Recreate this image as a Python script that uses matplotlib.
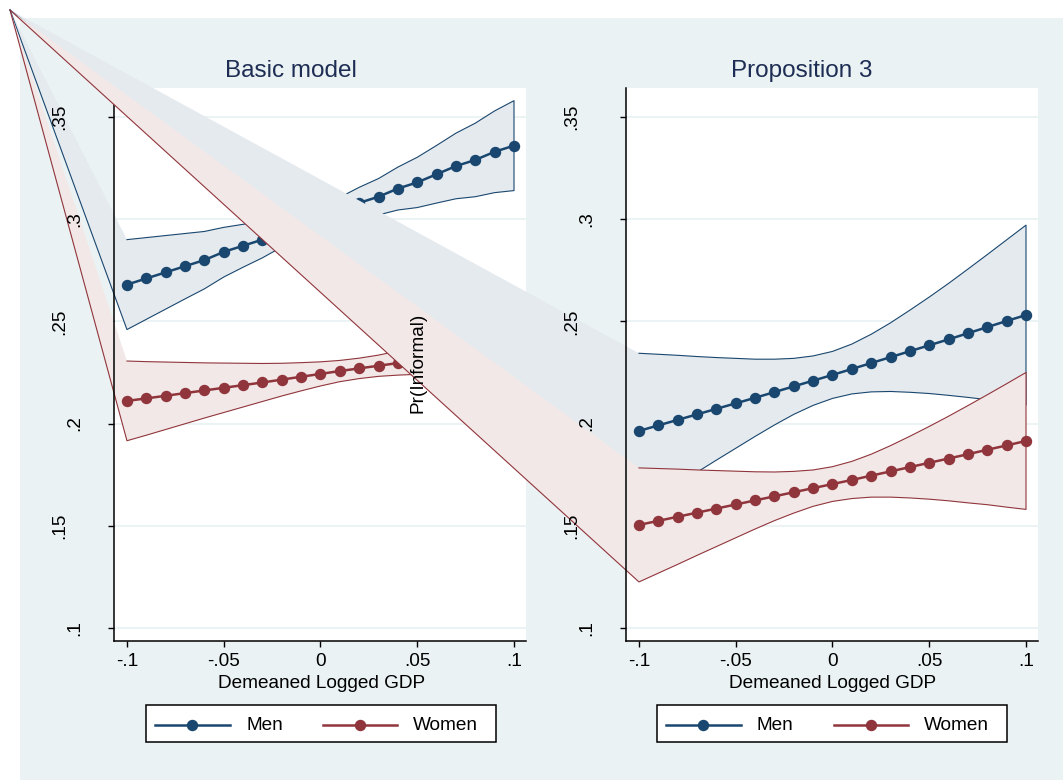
import matplotlib.pyplot as plt
from matplotlib.patches import Polygon, Rectangle
from matplotlib.lines import Line2D
from matplotlib.transforms import blended_transform_factory

plt.rcParams['font.family'] = ['Liberation Sans', 'DejaVu Sans']

# demeaned logged GDP grid (21 points)
gdp = [-0.10, -0.09, -0.08, -0.07, -0.06, -0.05, -0.04, -0.03, -0.02, -0.01, 0.0,
       0.01, 0.02, 0.03, 0.04, 0.05, 0.06, 0.07, 0.08, 0.09, 0.10]

# Basic model
basic_men = [0.268, 0.271, 0.274, 0.277, 0.280, 0.284, 0.287, 0.290, 0.294, 0.297, 0.301,
             0.304, 0.308, 0.311, 0.315, 0.318, 0.322, 0.326, 0.329, 0.333, 0.336]
basic_men_hi = [0.290, 0.291, 0.292, 0.293, 0.294, 0.296, 0.2975, 0.299, 0.3016, 0.3037, 0.3073,
                0.3107, 0.3156, 0.3199, 0.3255, 0.3303, 0.3361, 0.3421, 0.347, 0.353, 0.358]
basic_men_lo = [0.246, 0.251, 0.256, 0.261, 0.2659, 0.2717, 0.2765, 0.2811, 0.2864, 0.2903, 0.2947,
                0.2973, 0.3004, 0.3021, 0.3045, 0.3057, 0.3079, 0.3100, 0.311, 0.313, 0.314]
basic_women = [0.2111, 0.2123, 0.2136, 0.2149, 0.2162, 0.2175, 0.2188, 0.2201, 0.2215, 0.2229, 0.2243,
               0.2257, 0.2270, 0.2283, 0.2296, 0.2310, 0.2324, 0.2338, 0.2352, 0.2366, 0.2380]
basic_women_hi = [0.2306, 0.2303, 0.2301, 0.2299, 0.2297, 0.2296, 0.2295, 0.2294, 0.2295, 0.2298, 0.2302,
                  0.2309, 0.2320, 0.2335, 0.2355, 0.2379, 0.2404, 0.2431, 0.2459, 0.2487, 0.2515]
basic_women_lo = [0.1916, 0.1943, 0.1971, 0.1999, 0.2027, 0.2054, 0.2081, 0.2108, 0.2135, 0.2160, 0.2184,
                  0.2205, 0.2220, 0.2231, 0.2237, 0.2241, 0.2244, 0.2245, 0.2245, 0.2245, 0.2245]

# Proposition 3
prop_men = [0.1964, 0.1991, 0.2018, 0.2045, 0.2072, 0.2099, 0.2126, 0.2154, 0.2182, 0.2210, 0.2238,
            0.2267, 0.2296, 0.2325, 0.2354, 0.2383, 0.2412, 0.2442, 0.2472, 0.2502, 0.2531]
prop_men_hi = [0.2344, 0.2339, 0.2334, 0.2328, 0.2323, 0.2319, 0.2315, 0.2315, 0.2319, 0.2331, 0.2353,
               0.2389, 0.2437, 0.2493, 0.2555, 0.2619, 0.2686, 0.2756, 0.2827, 0.2899, 0.2971]
prop_men_lo = [0.1584, 0.1643, 0.1702, 0.1762, 0.1821, 0.1879, 0.1937, 0.1993, 0.2045, 0.2089, 0.2123,
               0.2145, 0.2155, 0.2157, 0.2153, 0.2147, 0.2138, 0.2128, 0.2117, 0.2105, 0.2091]
prop_women = [0.1504, 0.1524, 0.1544, 0.1564, 0.1584, 0.1604, 0.1624, 0.1644, 0.1664, 0.1684, 0.1704,
              0.1724, 0.1745, 0.1766, 0.1787, 0.1808, 0.1829, 0.1850, 0.1872, 0.1893, 0.1915]
prop_women_hi = [0.1783, 0.1780, 0.1777, 0.1773, 0.1770, 0.1767, 0.1764, 0.1763, 0.1766, 0.1773, 0.1789,
                 0.1815, 0.1850, 0.1892, 0.1938, 0.1986, 0.2036, 0.2088, 0.2141, 0.2195, 0.2250]
prop_women_lo = [0.1225, 0.1268, 0.1311, 0.1355, 0.1398, 0.1441, 0.1484, 0.1525, 0.1562, 0.1595, 0.1619,
                 0.1633, 0.1640, 0.1640, 0.1636, 0.1630, 0.1622, 0.1612, 0.1603, 0.1591, 0.1580]

xticks = [-0.1, -0.05, 0, 0.05, 0.1]
xticklabels = ['-.1', '-.05', '0', '.05', '.1']
yticks = [0.1, 0.15, 0.2, 0.25, 0.3, 0.35]
yticklabels = ['.1', '.15', '.2', '.25', '.3', '.35']
titles = ['Basic model', 'Proposition 3']

BLUE = '#1a476f'
RED = '#90353b'
BLUE_FILL = '#e5eaef'
RED_FILL = '#f3e8e8'
BG = '#eaf2f3'
TITLE_C = '#1e2d53'
FS = 13.7

W, H = 1063, 780
fig = plt.figure(figsize=(W / 100, H / 100), dpi=100)
fig.patch.set_facecolor('white')
fig.add_artist(Rectangle((20 / W, 0), 1 - 20 / W, 1 - 18 / H, transform=fig.transFigure,
                         facecolor=BG, edgecolor='none', zorder=-10))

# stray vertex of the band polygons (top-left corner of the image)
corner = (10 / W, 1 - 10 / H)


def band(ax, lo, hi, color, fill, z):
    cx, cy = ax.transData.inverted().transform(fig.transFigure.transform(corner))
    xs = [cx] + gdp + gdp[::-1]
    ys = [cy] + lo + hi[::-1]
    ax.add_patch(Polygon(list(zip(xs, ys)), closed=True, facecolor=fill,
                         edgecolor='none', clip_on=False, zorder=z))
    ax.plot(xs, ys, color=color, lw=0.8, clip_on=False, zorder=z + 0.1)


panels = [
    (114, basic_men, basic_men_lo, basic_men_hi, basic_women, basic_women_lo, basic_women_hi),
    (626, prop_men, prop_men_lo, prop_men_hi, prop_women, prop_women_lo, prop_women_hi),
]
title_x = [291, 802]
xlabel_x = [322, 833]

for k, (left, m, mlo, mhi, w, wlo, whi) in enumerate(panels):
    ax = fig.add_axes([left / W, 1 - 641 / H, 412 / W, 553 / H])
    ax.set_xlim(-0.1067, 0.1062)
    ax.set_ylim(0.0936, 0.3642)
    ax.set_facecolor('white')
    for s in ['top', 'right']:
        ax.spines[s].set_visible(False)
    for s in ['left', 'bottom']:
        ax.spines[s].set_color('black')
        ax.spines[s].set_linewidth(1.1)
    ax.set_xticks(xticks)
    ax.set_xticklabels(xticklabels, fontsize=FS)
    ax.set_yticks(yticks)
    ax.set_yticklabels([])
    ax.tick_params(axis='both', length=4.5, width=1, color='black', direction='out')
    ax.tick_params(axis='x', pad=4)
    ax.grid(axis='y', color=BG, lw=1.3)
    ax.grid(axis='x', visible=False)
    ax.set_axisbelow(True)

    band(ax, mlo, mhi, BLUE, BLUE_FILL, 1)
    band(ax, wlo, whi, RED, RED_FILL, 1.2)
    ax.plot(gdp, m, color=BLUE, lw=1.8, marker='o', ms=7.2, zorder=3)
    ax.plot(gdp, w, color=RED, lw=1.8, marker='o', ms=7.2, zorder=3)

    tr = blended_transform_factory(fig.transFigure, ax.transData)
    for v, lab in zip(yticks, yticklabels):
        off = 39 if len(lab) == 2 else 54
        ax.text((left - off) / W, v, lab, transform=tr, rotation=90, ha='center',
                va='center', fontsize=FS, clip_on=False, zorder=5)

    fig.text(title_x[k] / W, 1 - 71 / H, titles[k], ha='center', va='center',
             fontsize=17.5, color=TITLE_C)
    fig.text(xlabel_x[k] / W, 1 - 683 / H, 'Demeaned Logged GDP', ha='center',
             va='center', fontsize=FS)

    # legend box
    x0 = 146 if k == 0 else 657
    fig.add_artist(Rectangle((x0 / W, 1 - 742 / H), 350 / W, 37 / H, transform=fig.transFigure,
                             facecolor='white', edgecolor='black', lw=1.1, zorder=4))
    ly = 1 - 725 / H
    for (a, b, c), col, lab in [((9, 46, 84), BLUE, 'Men'), ((177, 214, 251), RED, 'Women')]:
        fig.add_artist(Line2D([(x0 + a) / W, (x0 + b) / W, (x0 + c) / W], [ly] * 3,
                              color=col, lw=1.8, marker='o', ms=7.2, markevery=[1],
                              transform=fig.transFigure, zorder=5))
        fig.text((x0 + c + 16) / W, ly, lab, ha='left', va='center', fontsize=FS, zorder=5)

fig.text(418 / W, 1 - 363 / H, 'Pr(Informal)', rotation=90, ha='center', va='center',
         fontsize=FS, zorder=6)

fig.savefig('out.png', dpi=100, facecolor=fig.get_facecolor())
